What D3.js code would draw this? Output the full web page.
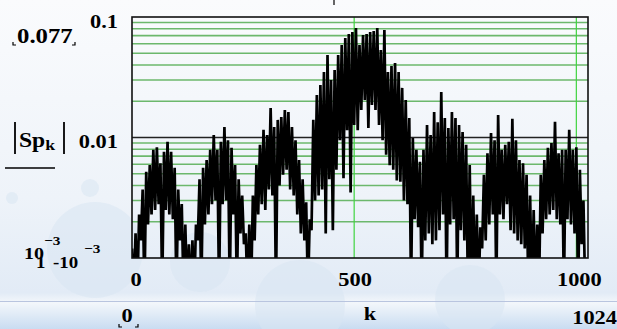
<!DOCTYPE html>
<html>
<head>
<meta charset="utf-8">
<script src="https://cdn.jsdelivr.net/npm/d3@7/dist/d3.min.js"></script>
<style>
  body { margin: 0; background: #f4f6fa; }
  svg { display: block; }
  .lbl { font-family: "Liberation Serif", "Times New Roman", serif; font-weight: bold; fill: #000; }
</style>
</head>
<body>
<svg id="chart" width="617" height="329"></svg>
<script>
const kStep = 4;
const spectrum = [
  0.0012,0.0005,0.0016,0.0005,0.0023,0.0014,0.0037,0.0005,0.0052,0.0019,0.0059,0.0023,0.0079,0.0025,0.0083,0.0028,
  0.0061,0.0005,0.0076,0.0025,0.0092,0.0023,0.0076,0.0021,0.0056,0.0005,0.0037,0.0014,0.0028,0.0005,0.0019,0.0005,
  0.0013,0.0005,0.0014,0.0005,0.0019,0.0014,0.0045,0.0005,0.0056,0.0019,0.0065,0.0023,0.0079,0.0028,0.0105,0.0030,
  0.0079,0.0005,0.0092,0.0028,0.0122,0.0030,0.0095,0.0005,0.0082,0.0023,0.0059,0.0005,0.0045,0.0016,0.0033,0.0013,
  0.0016,0.0005,0.0019,0.0005,0.0033,0.0014,0.0059,0.0023,0.0087,0.0028,0.0116,0.0025,0.0105,0.0037,0.0176,0.0033,
  0.0122,0.0005,0.0140,0.0040,0.0148,0.0049,0.0169,0.0054,0.0163,0.0037,0.0122,0.0033,0.0095,0.0023,0.0065,0.0016,
  0.0045,0.0014,0.0029,0.0005,0.0021,0.0017,0.0140,0.0030,0.0225,0.0033,0.0272,0.0037,0.0350,0.0016,0.0484,0.0045,
  0.0300,0.0017,0.0363,0.0054,0.0484,0.0095,0.0586,0.0046,0.0669,0.0115,0.0723,0.0035,0.0751,0.0127,0.0810,0.0115,
  0.0586,0.0169,0.0709,0.0205,0.0723,0.0120,0.0751,0.0186,0.0765,0.0169,0.0810,0.0127,0.0532,0.0095,0.0780,0.0072,
  0.0350,0.0059,0.0392,0.0054,0.0415,0.0044,0.0350,0.0043,0.0258,0.0030,0.0205,0.0028,0.0145,0.0005,0.0099,0.0021,
  0.0079,0.0018,0.0063,0.0005,0.0079,0.0014,0.0127,0.0016,0.0105,0.0013,0.0163,0.0014,0.0134,0.0017,0.0239,0.0023,
  0.0145,0.0005,0.0120,0.0019,0.0163,0.0021,0.0145,0.0005,0.0127,0.0017,0.0111,0.0014,0.0087,0.0005,0.0059,0.0005,
  0.0033,0.0005,0.0023,0.0005,0.0018,0.0012,0.0049,0.0014,0.0074,0.0019,0.0109,0.0023,0.0095,0.0005,0.0154,0.0023,
  0.0079,0.0021,0.0087,0.0028,0.0092,0.0017,0.0143,0.0016,0.0095,0.0014,0.0065,0.0013,0.0061,0.0012,0.0049,0.0005,
  0.0033,0.0005,0.0025,0.0005,0.0019,0.0005,0.0049,0.0016,0.0065,0.0021,0.0082,0.0023,0.0090,0.0025,0.0135,0.0021,
  0.0074,0.0019,0.0079,0.0005,0.0079,0.0021,0.0116,0.0019,0.0079,0.0016,0.0083,0.0005,0.0054,0.0013,0.0030,0.0005
];

const xDomain = [0, 1024];
const yDomain = [0.001, 0.1];
const xGridValues = [500, 1000];
const xTickValues = [0, 500, 1000];
const yDecadeLines = [0.01];
const yMinorLines = [0.002,0.003,0.004,0.005,0.006,0.007,0.008,0.009,
                     0.02,0.03,0.04,0.05,0.06,0.07,0.08,0.09];
const yTickValues = [0.1, 0.01];

var width = 617;
var height = 329;
var plot = { left: 132, right: 587, top: 17, bottom: 258 };

const svg = d3.select("#chart");

// slide background
const defs = svg.append("defs");
const bg = defs.append("linearGradient").attr("id", "bg")
  .attr("x1", 0).attr("y1", 0).attr("x2", 0).attr("y2", 1);
bg.append("stop").attr("offset", "0%").attr("stop-color", "#fafbfd");
bg.append("stop").attr("offset", "60%").attr("stop-color", "#eef3f9");
bg.append("stop").attr("offset", "89%").attr("stop-color", "#e2ebf6");
bg.append("stop").attr("offset", "92%").attr("stop-color", "#f3f7fb");
bg.append("stop").attr("offset", "100%").attr("stop-color", "#c9dcf1");

const lineGrad = defs.append("linearGradient").attr("id", "rule")
  .attr("x1", 0).attr("y1", 0).attr("x2", 1).attr("y2", 0);
lineGrad.append("stop").attr("offset", "0%").attr("stop-color", "#3d4b8c");
lineGrad.append("stop").attr("offset", "60%").attr("stop-color", "#7d8cbc");
lineGrad.append("stop").attr("offset", "100%").attr("stop-color", "#a3b3d6");

svg.append("rect").attr("width", width).attr("height", height).attr("fill", "url(#bg)");

const bubbles = [[95, 250, 48], [300, 305, 45], [12, 198, 6], [90, 188, 9], [200, 262, 30], [470, 300, 35]];
svg.append("g").selectAll("circle").data(bubbles).join("circle")
  .attr("cx", d => d[0]).attr("cy", d => d[1]).attr("r", d => d[2])
  .attr("fill", "#d9e5f3").attr("opacity", 0.55);

svg.append("line").attr("x1", 0).attr("x2", width).attr("y1", 297.5).attr("y2", 297.5)
  .attr("stroke", "url(#rule)").attr("stroke-width", 2);
svg.append("line").attr("x1", 0).attr("x2", width).attr("y1", 301.5).attr("y2", 301.5)
  .attr("stroke", "#b9c5df").attr("stroke-width", 1);

// scales
const x = d3.scaleLinear().domain(xDomain).range([plot.left, plot.right]);
const y = d3.scaleLog().domain(yDomain).range([plot.bottom, plot.top]);

// grid
const grid = svg.append("g");
grid.selectAll(".minor").data(yMinorLines).join("line")
  .attr("x1", plot.left).attr("x2", plot.right + 1)
  .attr("y1", d => y(d)).attr("y2", d => y(d))
  .attr("stroke", "#6cb86c").attr("stroke-width", 1.6);
grid.selectAll(".vgrid").data(xGridValues).join("line")
  .attr("x1", d => x(d)).attr("x2", d => x(d))
  .attr("y1", plot.top).attr("y2", plot.bottom)
  .attr("stroke", "#3fd43f").attr("stroke-width", 1.2);
grid.selectAll(".decade").data(yDecadeLines).join("line")
  .attr("x1", plot.left).attr("x2", plot.right + 1)
  .attr("y1", d => y(d)).attr("y2", d => y(d))
  .attr("stroke", "#222").attr("stroke-width", 1.6);

// trace
defs.append("clipPath").attr("id", "clip").append("rect")
  .attr("x", plot.left).attr("y", plot.top)
  .attr("width", plot.right - plot.left + 1).attr("height", plot.bottom - plot.top);

const line = d3.line()
  .x((d, i) => x(i * kStep))
  .y(d => y(d));

svg.append("path")
  .datum(spectrum)
  .attr("clip-path", "url(#clip)")
  .attr("fill", "none")
  .attr("stroke", "#000")
  .attr("stroke-width", 2.7)
  .attr("stroke-linejoin", "bevel")
  .attr("d", line);

// frame
svg.append("rect")
  .attr("x", plot.left).attr("y", plot.top)
  .attr("width", plot.right - plot.left + 1).attr("height", plot.bottom - plot.top)
  .attr("fill", "none").attr("stroke", "#111").attr("stroke-width", 1.6);

// labels (the original text is stretched sideways a little)
function label(px, py, txt, size, anchor) {
  return svg.append("text").attr("class", "lbl")
    .attr("transform", `translate(${px},${py}) scale(1.18,1)`)
    .attr("font-size", size)
    .attr("text-anchor", anchor || "start")
    .text(txt);
}

yTickValues.forEach(v => label(118, y(v) + (v === 0.1 ? 11 : 10), String(v), 19, "end"));
label(24, 259, "10", 17);
label(44, 245, "\u22123", 13);
label(36, 268, "1", 16);
label(53, 268, "-10", 16);
label(84, 253, "\u22123", 13);

xTickValues.forEach(v => {
  label(x(v) + (v === 0 ? 4 : v === 1000 ? 3 : 1), 286, String(v), 19, "middle");
});

label(17, 43, "0.077", 21);
label(127, 322, "0", 19, "middle");
label(370, 320, "k", 19, "middle");
label(617, 324, "1024", 19, "end");

// |Sp_k| variable label
svg.append("text").attr("class", "lbl")
  .attr("transform", "translate(19,147) scale(1.18,1)")
  .attr("font-size", 20)
  .text("Sp")
  .append("tspan").attr("font-size", 15).attr("dy", 3).text("k");
svg.append("g").selectAll("line").data([15, 64]).join("line")
  .attr("x1", d => d).attr("x2", d => d).attr("y1", 122).attr("y2", 154)
  .attr("stroke", "#000").attr("stroke-width", 1.8);
svg.append("line").attr("x1", 5).attr("x2", 55).attr("y1", 168).attr("y2", 168)
  .attr("stroke", "#000").attr("stroke-width", 1.5);

// placeholder corner marks
const marks = ["M13,42 v3 h3", "M75,42 v3 h-3", "M119,324 v3 h3", "M138,324 v3 h-3", "M334,0 v5"];
svg.append("g").selectAll("path").data(marks).join("path")
  .attr("d", d => d).attr("fill", "none").attr("stroke", "#000").attr("stroke-width", 1.2);
</script>
</body>
</html>
